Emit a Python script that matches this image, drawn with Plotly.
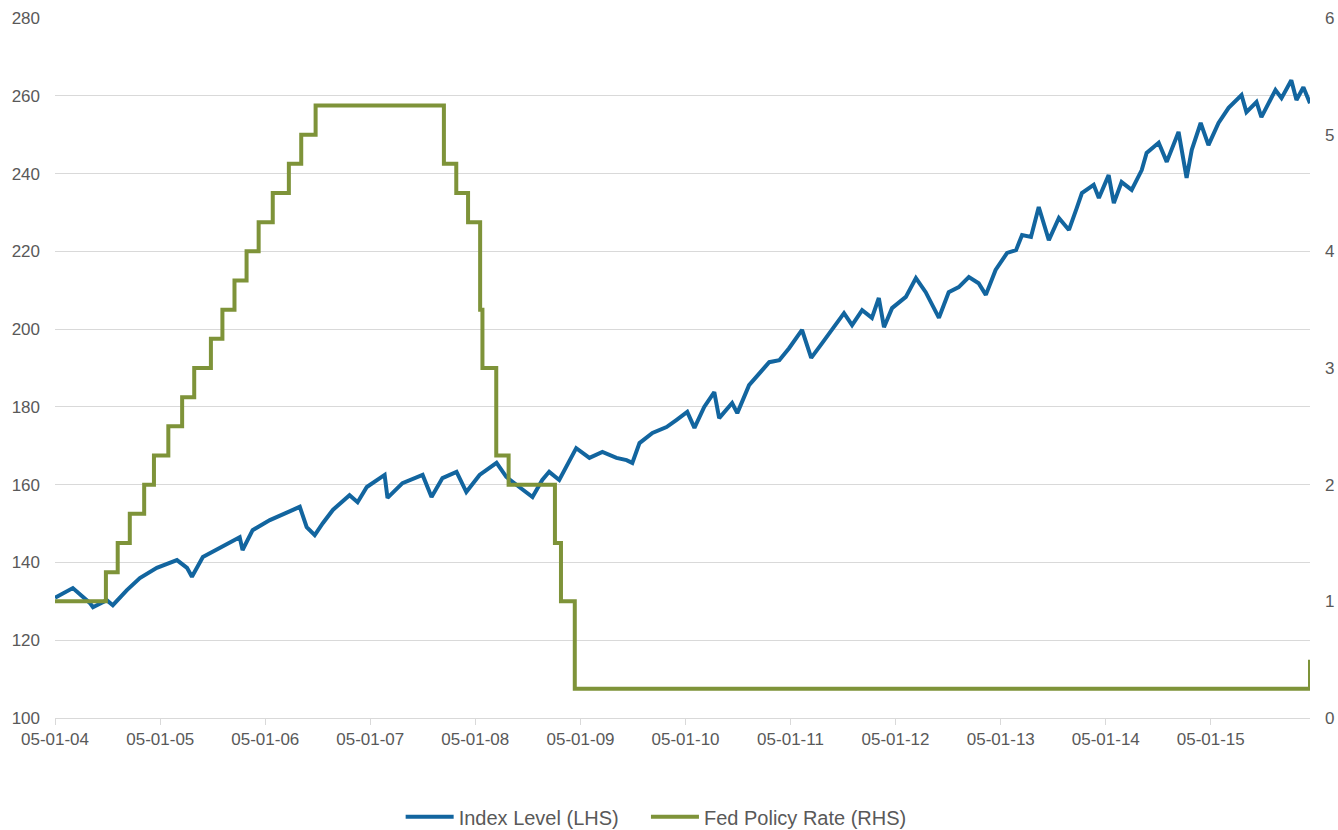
import plotly.graph_objects as go

# index level (LHS)
index_dates = [
    "2004-01-05", "2004-03-07", "2004-05-05", "2004-05-16", "2004-07-03", "2004-07-24",
    "2004-09-11", "2004-10-26", "2004-12-24", "2005-03-04", "2005-04-08", "2005-04-25",
    "2005-06-02", "2005-08-10", "2005-10-08", "2005-10-18", "2005-11-22", "2006-01-21",
    "2006-03-21", "2006-05-05", "2006-05-29", "2006-06-26", "2006-07-24", "2006-08-28",
    "2006-10-25", "2006-11-22", "2006-12-24", "2007-02-24", "2007-03-06", "2007-04-27",
    "2007-07-06", "2007-08-06", "2007-09-13", "2007-11-01", "2007-12-05", "2008-01-20",
    "2008-03-19", "2008-04-22", "2008-06-06", "2008-07-01", "2008-07-22", "2008-08-25",
    "2008-09-18", "2008-10-23", "2008-11-16", "2008-12-21", "2009-02-05", "2009-03-22",
    "2009-05-10", "2009-06-14", "2009-07-04", "2009-07-29", "2009-09-12", "2009-10-31",
    "2009-12-04", "2010-01-11", "2010-02-05", "2010-03-11", "2010-04-15", "2010-05-02",
    "2010-06-16", "2010-07-04", "2010-08-14", "2010-09-18", "2010-10-23", "2010-11-27",
    "2010-12-31", "2011-02-14", "2011-03-18", "2011-04-25", "2011-05-29", "2011-07-10",
    "2011-08-07", "2011-09-11", "2011-10-15", "2011-11-08", "2011-11-26", "2011-12-24",
    "2012-02-10", "2012-03-16", "2012-04-19", "2012-06-04", "2012-07-08", "2012-08-12",
    "2012-09-16", "2012-10-20", "2012-11-14", "2012-12-18", "2013-01-27", "2013-02-27",
    "2013-03-20", "2013-04-20", "2013-05-17", "2013-06-21", "2013-07-26", "2013-08-30",
    "2013-09-26", "2013-10-14", "2013-11-24", "2013-12-12", "2014-01-15", "2014-02-02",
    "2014-03-01", "2014-04-05", "2014-05-10", "2014-05-27", "2014-07-08", "2014-08-05",
    "2014-09-15", "2014-10-13", "2014-10-31", "2014-12-01", "2014-12-28", "2015-02-01",
    "2015-03-08", "2015-04-22", "2015-05-09", "2015-06-13", "2015-06-30", "2015-08-18",
    "2015-09-08", "2015-10-12", "2015-10-30", "2015-11-23", "2015-12-16",
]
index_level = [
    130.9, 133.4, 129.6, 128.5, 130.3, 129.0,
    132.9, 136.0, 138.6, 140.6, 138.6, 136.3,
    141.4, 144.0, 146.5, 143.2, 148.3, 150.9,
    152.7, 154.3, 149.1, 147.0, 150.1, 153.5,
    157.3, 155.5, 159.4, 162.5, 156.6, 160.4,
    162.5, 156.8, 161.7, 163.3, 158.1, 162.5,
    165.6, 162.0, 159.4, 157.9, 156.8, 161.2,
    163.3, 161.2, 164.5, 169.4, 166.9, 168.4,
    166.9, 166.3, 165.6, 170.7, 173.3, 174.8,
    176.6, 178.7, 174.6, 180.0, 183.8, 177.1,
    181.0, 178.4, 185.6, 188.7, 191.5, 192.0,
    195.1, 199.8, 192.6, 196.4, 199.8, 204.1,
    201.0, 204.9, 202.9, 208.0, 200.5, 205.4,
    208.3, 213.1, 209.5, 202.9, 209.5, 210.8,
    213.4, 211.8, 208.8, 215.2, 219.6, 220.3,
    224.2, 223.7, 231.4, 222.9, 228.6, 225.5,
    231.1, 235.0, 237.1, 233.7, 239.6, 232.4,
    237.8, 235.8, 240.9, 245.3, 247.9, 243.0,
    250.7, 238.9, 246.1, 253.0, 247.3, 253.0,
    256.9, 260.2, 255.8, 258.4, 254.5, 261.5,
    259.4, 264.0, 258.9, 262.2, 258.1,
]

# fed policy rate (RHS), change dates
rate_dates = [
    "2004-01-05", "2004-06-30", "2004-08-10", "2004-09-21", "2004-11-10", "2004-12-14",
    "2005-02-02", "2005-03-22", "2005-05-03", "2005-06-30", "2005-08-09", "2005-09-20",
    "2005-11-01", "2005-12-13", "2006-01-31", "2006-03-28", "2006-05-10", "2006-06-29",
    "2007-09-18", "2007-10-31", "2007-12-11", "2008-01-22", "2008-01-30", "2008-03-18",
    "2008-04-30", "2008-10-08", "2008-10-29", "2008-12-16", "2015-12-15", "2015-12-16",
]
fed_rate = [
    1.00, 1.25, 1.50, 1.75, 2.00, 2.25,
    2.50, 2.75, 3.00, 3.25, 3.50, 3.75,
    4.00, 4.25, 4.50, 4.75, 5.00, 5.25,
    4.75, 4.50, 4.25, 3.50, 3.00, 2.25,
    2.00, 1.50, 1.00, 0.25, 0.25, 0.50,
]

tick_dates = ["%d-01-05" % y for y in range(2004, 2016)]
tick_text = ["05-01-%02d" % (y % 100) for y in range(2004, 2016)]

BLUE = "#12659f"
GREEN = "#7e9339"
GRID = "#d9d9d9"
TXT = "#595959"
PAD = "\u00a0" * 4  # extra room between the two legend entries

fig = go.Figure()
fig.add_trace(go.Scatter(
    x=index_dates, y=index_level, mode="lines", name="Index Level (LHS)" + PAD,
    line=dict(color=BLUE, width=4), yaxis="y"))
fig.add_trace(go.Scatter(
    x=rate_dates, y=fed_rate, mode="lines", name="Fed Policy Rate (RHS)",
    line=dict(color=GREEN, width=4, shape="hv"), yaxis="y2"))

fig.update_layout(
    width=1338, height=830,
    margin=dict(l=55, r=28, t=18, b=112, autoexpand=False),
    paper_bgcolor="white", plot_bgcolor="white",
    font=dict(family="Liberation Sans, Arial, sans-serif", size=17, color=TXT),
    showlegend=True,
    legend=dict(orientation="h", x=0.479, xanchor="center", y=-0.141, yanchor="middle",
                font=dict(size=20, color=TXT), itemwidth=48, traceorder="normal"),
    xaxis=dict(
        type="date", range=["2004-01-05", "2015-12-16"], automargin=False,
        tickvals=tick_dates, ticktext=tick_text,
        showgrid=False, zeroline=False,
        showline=True, linecolor=GRID, linewidth=1,
        ticks="outside", ticklen=6, tickcolor=GRID, tickwidth=1,
    ),
    yaxis=dict(
        range=[100, 280], dtick=20, tick0=100, automargin=False,
        showgrid=True, gridcolor=GRID, gridwidth=1,
        zeroline=False, showline=False, ticks="",
        ticklabelstandoff=14,
    ),
    yaxis2=dict(
        range=[0, 6], dtick=1, tick0=0, overlaying="y", side="right", automargin=False,
        showgrid=False, zeroline=False, showline=False, ticks="",
        ticklabelstandoff=14,
    ),
)

# drop the default page margin so the figure sits at the window's corner
fig.write_html("out.html", config={"displayModeBar": False},
               post_script="document.body.style.margin='0';document.body.style.overflow='hidden';")
